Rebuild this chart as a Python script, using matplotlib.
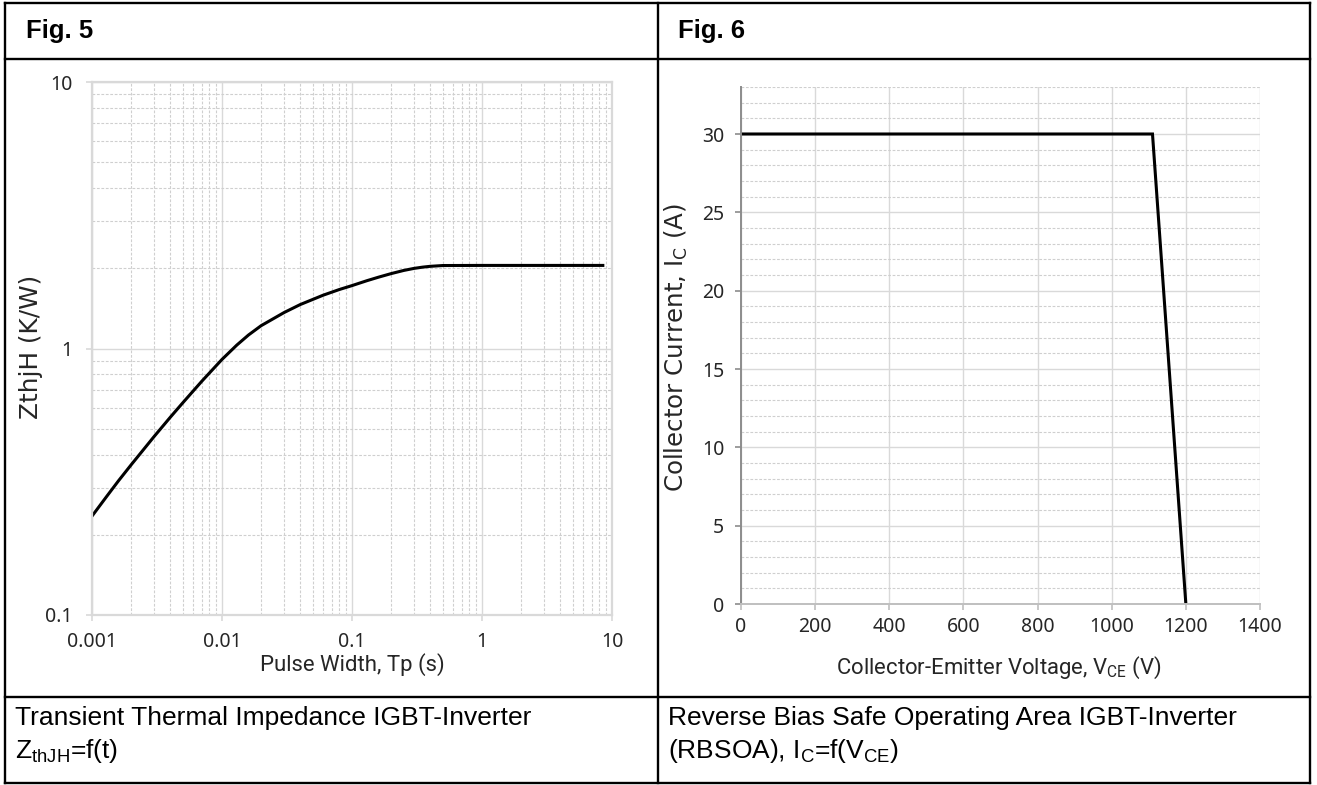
import numpy as np
import matplotlib
matplotlib.use('Agg')
import matplotlib.pyplot as plt
from matplotlib.lines import Line2D
from matplotlib.ticker import FixedLocator, NullFormatter, FixedFormatter, MultipleLocator

# ---------------- data ----------------
fig5_t = [0.001, 0.0013, 0.0016, 0.002, 0.003, 0.004, 0.005, 0.007, 0.01, 0.013,
          0.016, 0.02, 0.03, 0.04, 0.06, 0.08, 0.1, 0.13, 0.16, 0.2,
          0.25, 0.3, 0.35, 0.4, 0.5, 1, 2, 5, 8.5]
fig5_z = [0.235, 0.279, 0.319, 0.366, 0.467, 0.552, 0.626, 0.754, 0.91, 1.03,
          1.124, 1.218, 1.364, 1.462, 1.585, 1.665, 1.722, 1.796, 1.852, 1.91,
          1.963, 1.998, 2.02, 2.034, 2.048, 2.05, 2.05, 2.05, 2.05]
fig5_xticks = [0.001, 0.01, 0.1, 1, 10]
fig5_xticklabels = ['0.001', '0.01', '0.1', '1', '10']
fig5_yticks = [0.1, 1, 10]
fig5_yticklabels = ['0.1', '1', '10']

fig6_vce = [0, 1110, 1200]
fig6_ic = [30, 30, 0]
fig6_xticks = [0, 200, 400, 600, 800, 1000, 1200, 1400]
fig6_yticks = [0, 5, 10, 15, 20, 25, 30]

headers = ['Fig. 5', 'Fig. 6']
captions5 = ['Transient Thermal Impedance IGBT-Inverter', r'Z$_\mathregular{thJH}$=f(t)']
captions6 = ['Reverse Bias Safe Operating Area IGBT-Inverter',
             r'(RBSOA), I$_\mathregular{C}$=f(V$_\mathregular{CE}$)']

# ---------------- figure ----------------
W, H = 1317, 785
plt.rcParams['font.family'] = ['Noto Sans', 'DejaVu Sans']
fig = plt.figure(figsize=(W / 100, H / 100), dpi=100)
renderer = fig.canvas.get_renderer()


def fx(px):
    return px / W


def fy(py):
    return 1 - py / H


def seg(x0, y0, x1, y1, lw=1.7):
    fig.add_artist(Line2D([fx(x0), fx(x1)], [fy(y0), fy(y1)], color='black',
                          lw=lw, transform=fig.transFigure, solid_capstyle='projecting'))


def fit(texts, targets, vertical=False):
    """scale a group of texts so their measured lengths match target pixel lengths"""
    ratios = []
    for t, tgt in zip(texts, targets):
        bb = t.get_window_extent(renderer=renderer)
        ratios.append(tgt / (bb.height if vertical else bb.width))
    r = float(np.mean(ratios))
    for t in texts:
        t.set_fontsize(t.get_fontsize() * r)


# table borders
L, R, T, B, MID = 5, 1310, 3, 783, 658
seg(L, T, R, T)
seg(L, B, R, B)
seg(L, T, L, B)
seg(R, T, R, B)
seg(MID, T, MID, B)
seg(L, 59, R, 59)
seg(L, 697, R, 697)

GRID = '#d9d9d9'
TXT = '#262626'
CAP = 'Liberation Sans'
LAB_Y = 'DejaVu Sans'
LAB_X = ['Liberation Sans Narrow', 'Roboto']
TICKFS = 14

# ---------------- Fig 5 ----------------
ax1 = fig.add_axes([fx(92), fy(615), (612 - 92) / W, (615 - 82) / H])
ax1.set_xscale('log')
ax1.set_yscale('log')
ax1.set_xlim(0.001, 10)
ax1.set_ylim(0.1, 10)
ax1.xaxis.set_major_locator(FixedLocator(fig5_xticks))
ax1.xaxis.set_major_formatter(FixedFormatter(fig5_xticklabels))
ax1.yaxis.set_major_locator(FixedLocator(fig5_yticks))
ax1.yaxis.set_major_formatter(FixedFormatter(fig5_yticklabels))
minor_x = [d * m for d in [0.001, 0.01, 0.1, 1] for m in range(2, 10)]
minor_y = [d * m for d in [0.1, 1] for m in range(2, 10)]
ax1.xaxis.set_minor_locator(FixedLocator(minor_x))
ax1.yaxis.set_minor_locator(FixedLocator(minor_y))
ax1.xaxis.set_minor_formatter(NullFormatter())
ax1.yaxis.set_minor_formatter(NullFormatter())
ax1.grid(which='major', color=GRID, lw=1.0, ls='-')
ax1.grid(which='minor', color='#cfcfcf', lw=0.8, ls=(0, (2.5, 1.5)))
ax1.set_axisbelow(True)
for s in ['left', 'bottom', 'top', 'right']:
    ax1.spines[s].set_color(GRID)
    ax1.spines[s].set_linewidth(1.6)
ax1.tick_params(which='major', length=4, width=1.2, color=GRID, labelsize=TICKFS,
                labelcolor=TXT, direction='out')
ax1.tick_params(axis='y', which='major', pad=10)
ax1.tick_params(axis='x', which='major', pad=8)
ax1.tick_params(which='minor', length=0)
ax1.plot(fig5_t, fig5_z, color='black', lw=2.2, solid_joinstyle='round')

yl5 = fig.text(fx(31), fy(347), 'ZthjH (K/W)', rotation=90, ha='center', va='center',
               fontsize=14, color=TXT, family=LAB_Y)
xl5 = fig.text(fx(352), fy(665), 'Pulse Width, Tp (s)', ha='center', va='center',
               fontsize=15, color=TXT, family=LAB_X)

# ---------------- Fig 6 ----------------
ax2 = fig.add_axes([fx(741), fy(604), (1260 - 741) / W, (604 - 87) / H])
ax2.set_xlim(0, 1400)
ax2.set_ylim(0, 33)
ax2.xaxis.set_major_locator(FixedLocator(fig6_xticks))
ax2.yaxis.set_major_locator(FixedLocator(fig6_yticks))
ax2.yaxis.set_minor_locator(MultipleLocator(1))
ax2.grid(axis='x', which='major', color=GRID, lw=1.0, ls='-')
ax2.grid(axis='y', which='major', color=GRID, lw=1.0, ls='-')
ax2.grid(axis='y', which='minor', color='#cfcfcf', lw=0.8, ls=(0, (2.5, 1.5)))
ax2.set_axisbelow(True)
ax2.spines['top'].set_visible(False)
ax2.spines['right'].set_visible(False)
ax2.spines['left'].set_color('#8c8c8c')
ax2.spines['left'].set_linewidth(1.4)
ax2.spines['bottom'].set_color('#bfbfbf')
ax2.spines['bottom'].set_linewidth(1.4)
ax2.tick_params(axis='y', which='major', length=4, width=1.2, color='#8c8c8c', pad=8)
ax2.tick_params(axis='x', which='major', length=4, width=1.2, color='#bfbfbf', pad=5)
ax2.tick_params(which='major', labelsize=TICKFS, labelcolor=TXT)
ax2.tick_params(which='minor', length=0)
ax2.plot(fig6_vce, fig6_ic, color='black', lw=2.2, solid_joinstyle='miter')

yl6 = fig.text(fx(676), fy(348), r'Collector Current, I$_\mathregular{C}$ (A)', rotation=90,
               ha='center', va='center', fontsize=14, color=TXT, family=LAB_Y)
xl6 = fig.text(fx(999), fy(668), r'Collector-Emitter Voltage, V$_\mathregular{CE}$ (V)',
               ha='center', va='center', fontsize=15, color=TXT, family=LAB_X)

# ---------------- headers & captions ----------------
h5 = fig.text(fx(26), fy(31), headers[0], ha='left', va='center', fontsize=17,
              fontweight='bold', family=CAP, color='black')
h6 = fig.text(fx(678), fy(31), headers[1], ha='left', va='center', fontsize=17,
              fontweight='bold', family=CAP, color='black')

c5 = [fig.text(fx(15), fy(718 + 33 * i), line, ha='left', va='center', fontsize=16.5,
               family=CAP, color='black') for i, line in enumerate(captions5)]
c6 = [fig.text(fx(668), fy(718 + 33 * i), line, ha='left', va='center', fontsize=16.5,
               family=CAP, color='black') for i, line in enumerate(captions6)]

# match text lengths measured on the reference
fit([yl5], [144], vertical=True)
fit([yl6], [290], vertical=True)
fit([xl5, xl6], [177, 342])
fit([h5, h6], [67, 67])
fit(c5[:1] + c6[:1], [504, 584])
for t in [c5[1], c6[1]]:
    t.set_fontsize(c5[0].get_fontsize())

fig.savefig('out.png', dpi=100, facecolor='white')
